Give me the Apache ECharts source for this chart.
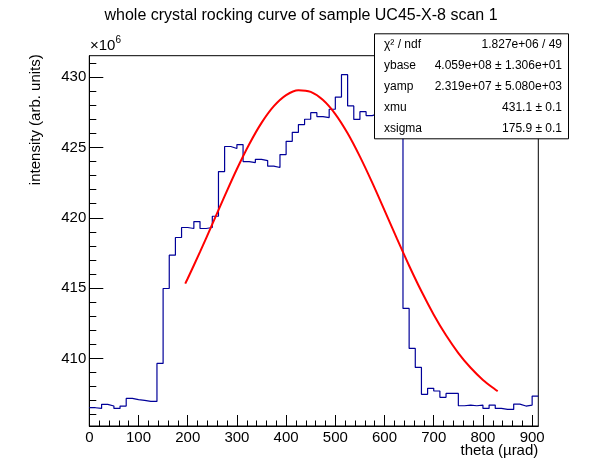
<!DOCTYPE html>
<html>
<head>
<meta charset="utf-8">
<script src="https://cdn.jsdelivr.net/npm/echarts@6/dist/echarts.min.js"></script>
<style>
html,body{margin:0;padding:0;background:#fff;}
#c{width:598px;height:474px;}
</style>
</head>
<body>
<div id="c"></div>
<script>
// ---- data (y in units of 1e6) ----
const BIN_WIDTH = 12.5;
const X_MIN = 0;
const X_MAX = 912.5;
const histValues = [
  406.49, 406.44, 406.73, 406.61, 406.44, 406.61, 407.15, 407.06, 407.01, 406.94,
  406.94, 409.64, 414.97, 417.34, 418.60, 419.31, 419.24, 419.73, 419.24, 419.31,
  420.11, 423.29, 425.07, 424.93, 425.21, 424.00, 423.93, 424.16, 424.07, 423.67,
  423.58, 424.50, 425.44, 426.08, 426.63, 427.01, 427.48, 427.20, 427.13, 427.72,
  428.59, 430.18, 427.96, 427.00, 427.55, 427.27, 427.41, 427.60, 427.90, 428.10,
  427.70, 413.55, 410.71, 409.36, 407.44, 407.87, 407.68, 407.23, 407.51, 407.51,
  406.63, 406.68, 406.63, 406.68, 406.44, 406.68, 406.44, 406.37, 406.37, 406.75,
  406.61, 406.68, 407.32
];
const fitX = [195, 200, 225, 250, 275, 300, 325, 350, 375, 400, 425, 450, 475, 500,
  525, 550, 575, 600, 625, 650, 675, 700, 725, 750, 775, 800, 825, 830];
const fitY = [415.32, 415.68, 417.57, 419.55, 421.54, 423.47, 425.23, 426.75, 427.94,
  428.73, 429.08, 428.96, 428.38, 427.38, 426.01, 424.35, 422.50, 420.53, 418.53,
  416.59, 414.77, 413.11, 411.64, 410.38, 409.33, 408.47, 407.79, 407.67];
const Y_MIN = 405.19;
const Y_MAX = 431.53;
const xTickLabels = [0, 100, 200, 300, 400, 500, 600, 700, 800, 900];
const yTickLabels = [410, 415, 420, 425, 430];
const statNames = ['χ² / ndf', 'ybase', 'yamp', 'xmu', 'xsigma'];
const statValues = ['1.827e+06 / 49', '4.059e+08 ± 1.306e+01', '2.319e+07 ± 5.080e+03', '431.1 ± 0.1', '175.9 ± 0.1'];
const titleText = 'whole crystal rocking curve of sample UC45-X-8 scan 1';
const xTitle = 'theta (µrad)';
const yTitle = 'intensity (arb. units)';

// ---- build ----
const FONT = '"Liberation Sans", Arial, Helvetica, sans-serif';
const histData = histValues.map((v, i) => [X_MIN + i * BIN_WIDTH, v]);
histData.push([X_MAX, histValues[histValues.length - 1]]);
const fitData = fitX.map((x, i) => [x, fitY[i]]);

const xMinor = [];
for (let v = 20; v < X_MAX; v += 20) if (v % 100 !== 0) xMinor.push(v);
const yMinor = [];
for (let v = Math.ceil(Y_MIN); v < Y_MAX; v += 1) if (v % 5 !== 0) yMinor.push(v);

const G = {left: 89.3, top: 55.7, right: 538.3, bottom: 426};

const graphics = [];
graphics.push({type: 'text', z: 100, style: {text: titleText, x: 301, y: 16, textAlign: 'center', textVerticalAlign: 'middle', font: '16px ' + FONT, fill: '#000'}});
graphics.push({type: 'text', z: 100, style: {text: xTitle, x: 538.3, y: 451, textAlign: 'right', textVerticalAlign: 'middle', font: '15px ' + FONT, fill: '#000'}});
graphics.push({type: 'text', z: 100, x: 36, y: 119.7, rotation: Math.PI / 2, style: {text: yTitle, x: 0, y: 0, textAlign: 'center', textVerticalAlign: 'middle', font: '15px ' + FONT, fill: '#000'}});
graphics.push({type: 'text', z: 100, style: {text: '{a|×10}{s|6}', x: 90, y: 53.5, textVerticalAlign: 'bottom', rich: {a: {fontSize: 15, fontFamily: FONT, color: '#000', verticalAlign: 'bottom'}, s: {fontSize: 10, fontFamily: FONT, color: '#000', verticalAlign: 'top', padding: [0, 0, 8, 0]}}}});
// stat box
const BOX = {x: 374, y: 33.3, w: 194, h: 105};
graphics.push({type: 'rect', z: 100, shape: {x: BOX.x + 0.5, y: BOX.y + 0.5, width: BOX.w, height: BOX.h}, style: {fill: '#fff', stroke: '#000', lineWidth: 1}});
const rowH = BOX.h / statNames.length;
statNames.forEach((n, i) => {
  const cy = BOX.y + rowH * (i + 0.5) + 0.5;
  graphics.push({type: 'text', z: 101, style: {text: n, x: BOX.x + 10, y: cy, textAlign: 'left', textVerticalAlign: 'middle', font: '12px ' + FONT, fill: '#000'}});
  graphics.push({type: 'text', z: 101, style: {text: statValues[i], x: BOX.x + BOX.w - 6, y: cy, textAlign: 'right', textVerticalAlign: 'middle', font: '12px ' + FONT, fill: '#000'}});
});

const axisCommonX = {type: 'value', min: X_MIN, max: X_MAX, position: 'bottom', splitLine: {show: false}};
const axisCommonY = {type: 'value', min: Y_MIN, max: Y_MAX, position: 'left', splitLine: {show: false}};

const option = {
  animation: false,
  backgroundColor: '#fff',
  grid: {left: G.left, top: G.top, width: G.right - G.left, height: G.bottom - G.top, show: true, borderColor: '#000', borderWidth: 1, backgroundColor: 'transparent', containLabel: false},
  xAxis: [
    Object.assign({}, axisCommonX, {
      axisLine: {show: true, onZero: false, lineStyle: {color: '#000', width: 1}},
      axisTick: {show: true, inside: true, length: 11, customValues: xTickLabels, lineStyle: {color: '#000'}},
      axisLabel: {show: true, customValues: xTickLabels, margin: 4, fontSize: 15, fontFamily: FONT, color: '#000'}
    }),
    Object.assign({}, axisCommonX, {
      axisLine: {show: false, onZero: false},
      axisTick: {show: true, inside: true, length: 5.5, customValues: xMinor, lineStyle: {color: '#000'}},
      axisLabel: {show: false}
    })
  ],
  yAxis: [
    Object.assign({}, axisCommonY, {
      axisLine: {show: true, onZero: false, lineStyle: {color: '#000', width: 1}},
      axisTick: {show: true, inside: true, length: 14, customValues: yTickLabels, lineStyle: {color: '#000'}},
      axisLabel: {show: true, customValues: yTickLabels, margin: 3, fontSize: 15, fontFamily: FONT, color: '#000'}
    }),
    Object.assign({}, axisCommonY, {
      axisLine: {show: false, onZero: false},
      axisTick: {show: true, inside: true, length: 7, customValues: yMinor, lineStyle: {color: '#000'}},
      axisLabel: {show: false}
    })
  ],
  series: [
    {type: 'line', xAxisIndex: 0, yAxisIndex: 0, data: histData, step: 'end', showSymbol: false, symbol: 'none', lineStyle: {color: '#000099', width: 1.2}, z: 3},
    {type: 'line', xAxisIndex: 0, yAxisIndex: 0, data: fitData, smooth: 0.3, showSymbol: false, symbol: 'none', lineStyle: {color: '#ff0000', width: 2}, z: 4}
  ],
  graphic: graphics
};

const chart = echarts.init(document.getElementById('c'), null, {renderer: 'canvas'});
chart.setOption(option);
</script>
</body>
</html>
